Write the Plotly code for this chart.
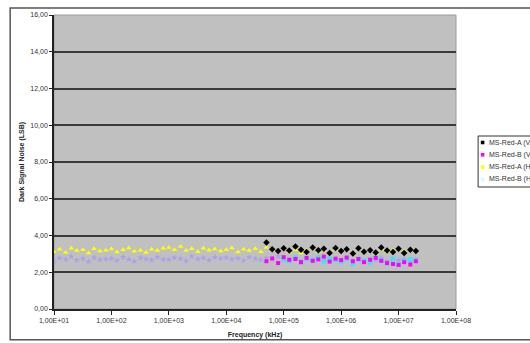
import plotly.graph_objects as go

# ---------------- data ----------------
freq_full = [10, 12.5, 16, 20, 25, 32, 40, 50, 63, 80,
             100, 125, 160, 200, 250, 320, 400, 500, 630, 800,
             1000, 1250, 1600, 2000, 2500, 3200, 4000, 5000, 6300, 8000,
             10000, 12500, 16000, 20000, 25000, 32000, 40000, 50000, 63000, 80000,
             100000, 125000, 160000, 200000, 250000, 320000, 400000, 500000, 630000, 800000,
             1000000, 1250000, 1600000, 2000000, 2500000, 3200000, 4000000, 5000000, 6300000, 8000000,
             10000000, 12500000, 16000000, 20000000]

red_a_h = [3.12, 3.25, 3.08, 3.30, 3.18, 3.22, 3.05, 3.28, 3.15, 3.20,
           3.26, 3.10, 3.22, 3.32, 3.14, 3.20, 3.08, 3.25, 3.18, 3.30,
           3.35, 3.22, 3.40, 3.18, 3.28, 3.12, 3.30, 3.20, 3.26, 3.15,
           3.22, 3.32, 3.10, 3.25, 3.18, 3.28, 3.12, 3.35, 3.20, 3.15,
           3.28, 3.10, 3.22, 3.05, 3.18, 3.30, 3.12, 3.20, 3.08, 3.25,
           3.15, 3.22, 3.05, 3.28, 3.12, 3.18, 3.02, 3.25, 3.10, 3.20,
           3.30, 3.15, 3.22, 3.12]

lavender = [2.62, 2.78, 2.70, 2.85, 2.66, 2.74, 2.58, 2.80, 2.68, 2.72,
            2.76, 2.64, 2.82, 2.70, 2.60, 2.78, 2.72, 2.66, 2.84, 2.70,
            2.68, 2.80, 2.74, 2.62, 2.86, 2.72, 2.78, 2.66, 2.82, 2.74,
            2.80, 2.70, 2.76, 2.64, 2.82, 2.74, 2.68, 2.78, 2.72, 2.86,
            2.70, 2.62, 2.76, 2.58, 2.72, 2.66, 2.80, 2.60, 2.74, 2.68,
            2.64, 2.72, 2.58, 2.76, 2.62, 2.70, 2.66, 2.78, 2.60, 2.74,
            2.66, 2.72, 2.62, 2.70]

freq_high = [50000, 63000, 80000,
             100000, 125000, 160000, 200000, 250000, 320000, 400000, 500000, 630000, 800000,
             1000000, 1250000, 1600000, 2000000, 2500000, 3200000, 4000000, 5000000, 6300000, 8000000,
             10000000, 12500000, 16000000, 20000000]

red_a_v = [3.62, 3.25, 3.15,
           3.30, 3.18, 3.40, 3.22, 3.10, 3.35, 3.20, 3.28, 3.05, 3.32,
           3.15, 3.25, 3.02, 3.30, 3.12, 3.20, 3.08, 3.35, 3.18, 3.10,
           3.28, 3.05, 3.22, 3.15]

red_b_v = [2.60, 2.75, 2.50,
           2.82, 2.68, 2.72, 2.55, 2.78, 2.62, 2.70, 2.85, 2.58, 2.74,
           2.66, 2.80, 2.60, 2.72, 2.55, 2.68, 2.78, 2.62, 2.50, 2.45,
           2.40, 2.55, 2.42, 2.60]

freq_cyan = [100000, 125000, 160000, 200000, 250000, 320000, 400000, 500000, 630000, 800000,
             1000000, 1250000, 1600000, 2000000, 2500000, 3200000, 4000000, 5000000, 6300000, 8000000,
             10000000, 12500000, 16000000, 20000000]
red_b_h = [2.70, 2.62, 2.80, 2.55, 2.74, 2.66, 2.78, 2.60, 2.72, 2.68,
           2.58, 2.75, 2.45, 2.70, 2.62, 2.52, 2.78, 2.66, 2.48, 2.72,
           2.42, 2.60, 2.70, 2.65]

series_names = ["MS-Red-A (V)", "MS-Red-B (V)", "MS-Red-A (H)", "MS-Red-B (H)"]
series_colors = ["#000000", "#FF00FF", "#FFFF00", "#66FFFF"]
series_symbols = ["diamond", "square", "triangle-up", "x"]

y_ticks = [0, 2, 4, 6, 8, 10, 12, 14, 16]
y_ticktext = ["0,00", "2,00", "4,00", "6,00", "8,00", "10,00", "12,00", "14,00", "16,00"]
x_ticks = [1e1, 1e2, 1e3, 1e4, 1e5, 1e6, 1e7, 1e8]
x_ticktext = ["1,00E+01", "1,00E+02", "1,00E+03", "1,00E+04",
              "1,00E+05", "1,00E+06", "1,00E+07", "1,00E+08"]

FONT = "Liberation Sans, Arial, sans-serif"

fig = go.Figure()

# unlabeled lavender series (drawn first, below others)
fig.add_trace(go.Scatter(x=freq_full, y=lavender, mode="markers", showlegend=False,
                         marker=dict(color="#A8A0F0", symbol="star", size=5, line=dict(width=0))))
fig.add_trace(go.Scatter(x=freq_full, y=red_a_h, mode="markers", name=series_names[2], showlegend=False,
                         marker=dict(color=series_colors[2], symbol=series_symbols[2], size=5, line=dict(width=0))))
fig.add_trace(go.Scatter(x=freq_cyan, y=red_b_h, mode="markers", name=series_names[3], showlegend=False,
                         marker=dict(color="#33E8F0", symbol="x", size=5, line=dict(width=0))))
fig.add_trace(go.Scatter(x=freq_high, y=red_b_v, mode="markers", name=series_names[1], showlegend=False,
                         marker=dict(color=series_colors[1], symbol=series_symbols[1], size=4, line=dict(width=0))))
fig.add_trace(go.Scatter(x=freq_high, y=red_a_v, mode="markers", name=series_names[0], showlegend=False,
                         marker=dict(color=series_colors[0], symbol=series_symbols[0], size=5, line=dict(width=0))))

shapes = []
annotations = []

# outer chart border
shapes.append(dict(type="rect", xref="paper", yref="paper", x0=-0.109, x1=1.25, y0=-0.105, y1=1.024,
                   line=dict(color="#555555", width=1.5), fillcolor="rgba(0,0,0,0)", layer="below"))
# plot-area border (grey)
shapes.append(dict(type="rect", xref="paper", yref="paper", x0=0, x1=1, y0=0, y1=1,
                   line=dict(color="#9A9A9A", width=1), fillcolor="rgba(0,0,0,0)", layer="below"))

# manual legend
lx0, lx1 = 1.055, 1.25
ly_top = (309 - 136) / 294
ly_bot = (309 - 187) / 294
shapes.append(dict(type="rect", xref="paper", yref="paper", x0=lx0, x1=lx1, y0=ly_bot, y1=ly_top,
                   line=dict(color="#333333", width=1), fillcolor="white"))
entry_h = 12.3 / 294
for i, (nm, col) in enumerate(zip(series_names, series_colors)):
    yc = ly_top - (6.5 / 294) - i * entry_h
    mx = lx0 + 4.5 / 402
    shapes.append(dict(type="rect", xref="paper", yref="paper",
                       x0=mx - 1.8 / 402, x1=mx + 1.8 / 402, y0=yc - 1.8 / 294, y1=yc + 1.8 / 294,
                       line=dict(width=0), fillcolor=col if col != "#66FFFF" else "#CCFFFF"))
    annotations.append(dict(xref="paper", yref="paper", x=lx0 + 9 / 402, y=yc, text=nm,
                            showarrow=False, xanchor="left", yanchor="middle",
                            font=dict(family=FONT, size=7, color="#333333")))

fig.update_layout(
    width=530, height=343,
    margin=dict(l=54, r=74, t=15, b=34),
    paper_bgcolor="white",
    plot_bgcolor="#C0C0C0",
    showlegend=False,
    shapes=shapes,
    annotations=annotations,
    font=dict(family=FONT, size=7, color="#333333"),
)

fig.update_xaxes(
    type="log", range=[1, 8], automargin=False,
    tickvals=x_ticks, ticktext=x_ticktext,
    showgrid=False, zeroline=False,
    showline=True, linecolor="#222222", linewidth=1.5,
    ticks="outside", ticklen=4, tickcolor="#222222",
    tickfont=dict(family=FONT, size=7, color="#333333"),
    title=dict(text="<b>Frequency (kHz)</b>", font=dict(family=FONT, size=7, color="#222222"), standoff=9),
)
fig.update_yaxes(
    range=[0, 16], automargin=False,
    tickvals=y_ticks, ticktext=y_ticktext,
    showgrid=True, gridcolor="#3A3A3A", gridwidth=1.5,
    zeroline=False,
    showline=True, linecolor="#222222", linewidth=1.5,
    ticks="outside", ticklen=3, tickcolor="#222222",
    tickfont=dict(family=FONT, size=7, color="#333333"),
    title=dict(text="<b>Dark Signal Noise (LSB)</b>", font=dict(family=FONT, size=7, color="#222222"), standoff=5),
)

fig.write_html("out.html")
